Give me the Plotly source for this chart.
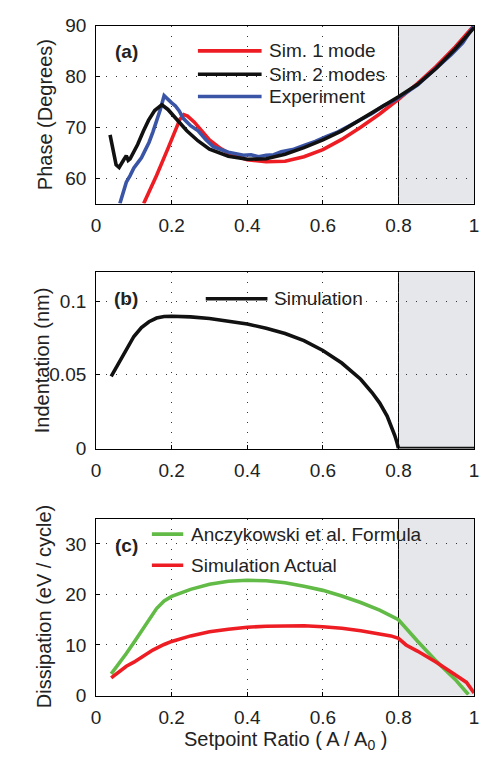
import plotly.graph_objects as go

W, H = 483, 761

# ---------------- data ----------------
# Panel (a): phase
sim1_x = [0.126, 0.16, 0.19, 0.21, 0.222, 0.232, 0.242, 0.26, 0.28, 0.30, 0.33, 0.36, 0.40, 0.45, 0.50, 0.55, 0.60, 0.65, 0.70, 0.75, 0.80, 0.85, 0.90, 0.95, 1.0]
sim1_y = [55.0, 60.5, 65.8, 69.3, 71.6, 72.5, 72.2, 71.0, 69.2, 67.5, 65.8, 64.5, 63.6, 63.2, 63.3, 64.2, 65.6, 67.6, 70.0, 72.6, 75.5, 78.6, 82.0, 85.8, 90.0]

sim2_x = [0.037, 0.045, 0.053, 0.061, 0.068, 0.074, 0.08, 0.085, 0.09, 0.096, 0.11, 0.125, 0.139, 0.155, 0.174, 0.19, 0.21, 0.24, 0.27, 0.30, 0.35, 0.40, 0.45, 0.50, 0.55, 0.60, 0.65, 0.70, 0.75, 0.80, 0.85, 0.90, 0.95, 1.0]
sim2_y = [68.5, 65.5, 62.6, 62.1, 62.8, 63.7, 64.4, 63.5, 63.8, 64.6, 66.6, 69.2, 71.4, 73.3, 74.4, 73.5, 71.8, 69.3, 67.3, 65.7, 64.3, 63.7, 63.8, 64.7, 66.0, 67.5, 69.3, 71.5, 73.6, 76.0, 78.4, 81.6, 85.4, 89.6]

exp_x = [0.063, 0.07, 0.08, 0.09, 0.10, 0.11, 0.12, 0.13, 0.14, 0.15, 0.16, 0.17, 0.18, 0.19, 0.20, 0.21, 0.22, 0.23, 0.24, 0.25, 0.27, 0.29, 0.31, 0.33, 0.35, 0.37, 0.39, 0.41, 0.43, 0.45, 0.47, 0.49, 0.52, 0.55, 0.58, 0.61, 0.64, 0.67, 0.70, 0.73, 0.76, 0.79, 0.82, 0.85, 0.88, 0.91, 0.94, 0.97, 1.0]
exp_y = [55.0, 56.8, 59.2, 60.5, 62.0, 63.0, 64.0, 65.5, 67.0, 69.0, 71.0, 73.5, 76.2, 75.4, 74.8, 74.2, 73.2, 71.8, 71.0, 70.3, 69.3, 67.6, 66.2, 65.6, 65.1, 64.8, 64.5, 64.6, 64.2, 64.5, 64.6, 65.2, 65.6, 66.4, 67.2, 68.2, 69.1, 70.3, 71.5, 72.7, 74.2, 75.3, 76.8, 78.3, 80.3, 82.2, 84.3, 86.6, 90.0]

# Panel (b): indentation
ind_x = [0.04, 0.06, 0.08, 0.10, 0.12, 0.14, 0.16, 0.18, 0.20, 0.25, 0.30, 0.35, 0.40, 0.45, 0.50, 0.55, 0.60, 0.65, 0.70, 0.73, 0.75, 0.77, 0.78, 0.79, 0.795, 0.80, 1.0]
ind_y = [0.049, 0.058, 0.068, 0.076, 0.082, 0.086, 0.0885, 0.0895, 0.0897, 0.0893, 0.0882, 0.0865, 0.0845, 0.0815, 0.078, 0.0732, 0.0665, 0.058, 0.047, 0.038, 0.031, 0.022, 0.016, 0.009, 0.005, 0.0, 0.0]

# Panel (c): dissipation
anc_x = [0.04, 0.06, 0.08, 0.10, 0.12, 0.14, 0.16, 0.18, 0.20, 0.25, 0.30, 0.35, 0.40, 0.45, 0.50, 0.55, 0.60, 0.65, 0.70, 0.75, 0.80, 0.85, 0.90, 0.95, 0.985]
anc_y = [4.3, 6.2, 8.3, 10.5, 12.8, 15.2, 17.2, 18.7, 19.6, 21.0, 22.0, 22.6, 22.8, 22.7, 22.3, 21.6, 20.8, 19.7, 18.4, 16.9, 15.0, 10.8, 6.8, 3.2, 0.2]

act_x = [0.04, 0.06, 0.08, 0.10, 0.12, 0.15, 0.18, 0.20, 0.25, 0.30, 0.35, 0.40, 0.45, 0.50, 0.55, 0.60, 0.65, 0.70, 0.75, 0.78, 0.80, 0.82, 0.85, 0.90, 0.95, 0.98, 1.0]
act_y = [3.5, 4.6, 5.8, 6.6, 7.6, 9.0, 10.1, 10.7, 11.8, 12.6, 13.1, 13.5, 13.7, 13.8, 13.8, 13.6, 13.3, 12.8, 12.2, 11.8, 11.3, 10.0, 8.8, 6.6, 4.1, 2.6, 0.5]

x_ticks = [0, 0.2, 0.4, 0.6, 0.8, 1]
x_tick_text = ["0", "0.2", "0.4", "0.6", "0.8", "1"]
a_ticks = [60, 70, 80, 90]
b_ticks = [0, 0.05, 0.1]
b_tick_text = ["0", "0.05", "0.1"]
c_ticks = [0, 10, 20, 30]

RED = "#ee1d24"
BLACK = "#111111"
BLUE = "#3a55a6"
GREEN = "#62bb46"
GRAY = "#e6e7ea"
FONT = "Liberation Sans, Arial, Helvetica, sans-serif"
FS = 19
LW = 3.6


def px_x(p):
    return p / W


def px_y(p):
    return 1 - p / H


fig = go.Figure()
fig.add_trace(go.Scatter(x=sim1_x, y=sim1_y, mode="lines", line=dict(color=RED, width=LW), xaxis="x", yaxis="y", name="Sim. 1 mode"))
fig.add_trace(go.Scatter(x=exp_x, y=exp_y, mode="lines", line=dict(color=BLUE, width=LW), xaxis="x", yaxis="y", name="Experiment"))
fig.add_trace(go.Scatter(x=sim2_x, y=sim2_y, mode="lines", line=dict(color=BLACK, width=LW), xaxis="x", yaxis="y", name="Sim. 2 modes"))
fig.add_trace(go.Scatter(x=ind_x, y=ind_y, mode="lines", line=dict(color=BLACK, width=LW), xaxis="x2", yaxis="y2", name="Simulation", cliponaxis=False))
fig.add_trace(go.Scatter(x=anc_x, y=anc_y, mode="lines", line=dict(color=GREEN, width=LW), xaxis="x3", yaxis="y3", name="Anczykowski et al. Formula", cliponaxis=False))
fig.add_trace(go.Scatter(x=act_x, y=act_y, mode="lines", line=dict(color=RED, width=LW), xaxis="x3", yaxis="y3", name="Simulation Actual", cliponaxis=False))

xdom = [93 / W, 479 / W]
ydoms = [[px_y(199), px_y(16)], [px_y(451), px_y(269)], [px_y(705), px_y(523)]]

axis_common = dict(
    showline=True, mirror=True, linecolor="black", linewidth=1,
    ticks="inside", ticklen=4, tickcolor="black",
    showgrid=True, gridcolor="#333333", gridwidth=1, griddash="1px,9px",
    zeroline=False, ticklabeloverflow="allow",
    tickfont=dict(family=FONT, size=FS, color="#222"),
)

layout = dict(
    width=W, height=H,
    margin=dict(l=0, r=0, t=0, b=0),
    paper_bgcolor="white", plot_bgcolor="white",
    showlegend=False,
    font=dict(family=FONT, size=FS, color="#222"),
)
for i, (ax, yr, yt, ytt) in enumerate([
        ("", [55, 90], a_ticks, [str(t) for t in a_ticks]),
        ("2", [0, 0.12], b_ticks, b_tick_text),
        ("3", [0, 35], c_ticks, [str(t) for t in c_ticks])]):
    layout["xaxis" + ax] = dict(axis_common, domain=xdom, range=[0, 1], tickvals=x_ticks, ticktext=x_tick_text,
                                anchor="y" + ax, ticklabelstandoff=5)
    layout["yaxis" + ax] = dict(axis_common, domain=ydoms[i], range=yr, tickvals=yt, ticktext=ytt,
                                anchor="x" + ax, ticklabelstandoff=5)
fig.update_layout(**layout)

shapes = []
for ax in ["", "2", "3"]:
    shapes.append(dict(type="rect", xref="x" + ax, yref="y" + ax + " domain", x0=0.8, x1=1, y0=0, y1=1,
                       fillcolor=GRAY, line=dict(width=0), layer="below"))
    shapes.append(dict(type="line", xref="x" + ax, yref="y" + ax + " domain", x0=0.8, x1=0.8, y0=0, y1=1,
                       line=dict(color="black", width=1), layer="below"))

annotations = []


def legend_item(x0, x1, y, color, text, tx):
    shapes.append(dict(type="line", xref="paper", yref="paper", x0=px_x(x0), x1=px_x(x1), y0=px_y(y), y1=px_y(y),
                       line=dict(color=color, width=LW), layer="above"))
    annotations.append(dict(xref="paper", yref="paper", x=px_x(tx), y=px_y(y), text=text, showarrow=False,
                            xanchor="left", yanchor="middle", font=dict(family=FONT, size=FS, color="#222")))


legend_item(197, 262, 42, RED, "Sim. 1 mode", 268)
legend_item(197, 262, 66, BLACK, "Sim. 2 modes", 268)
legend_item(197, 262, 89, BLUE, "Experiment", 268)
legend_item(205, 268, 297, BLACK, "Simulation", 273)
legend_item(150, 182, 539, GREEN, "Anczykowski et al. Formula", 188)
legend_item(150, 182, 571, RED, "Simulation Actual", 188)

for lbl, y in [("(a)", 43), ("(b)", 297), ("(c)", 551)]:
    annotations.append(dict(xref="paper", yref="paper", x=px_x(124), y=px_y(y), text="<b>" + lbl + "</b>",
                            showarrow=False, xanchor="center", yanchor="middle",
                            font=dict(family=FONT, size=FS, color="#222")))

for t, x, y in [("Phase (Degrees)", 41, 108), ("Indentation (nm)", 38, 360), ("Dissipation (eV / cycle)", 40, 614)]:
    annotations.append(dict(xref="paper", yref="paper", x=px_x(x), y=px_y(y), text=t, textangle=-90,
                            showarrow=False, xanchor="center", yanchor="middle",
                            font=dict(family=FONT, size=20, color="#222")))

annotations.append(dict(xref="paper", yref="paper", x=px_x(286), y=px_y(736),
                        text="Setpoint Ratio ( A / A<sub>0</sub> )", showarrow=False,
                        xanchor="center", yanchor="top", font=dict(family=FONT, size=20, color="#222")))

fig.update_layout(shapes=shapes, annotations=annotations)
fig.write_html("out.html")
